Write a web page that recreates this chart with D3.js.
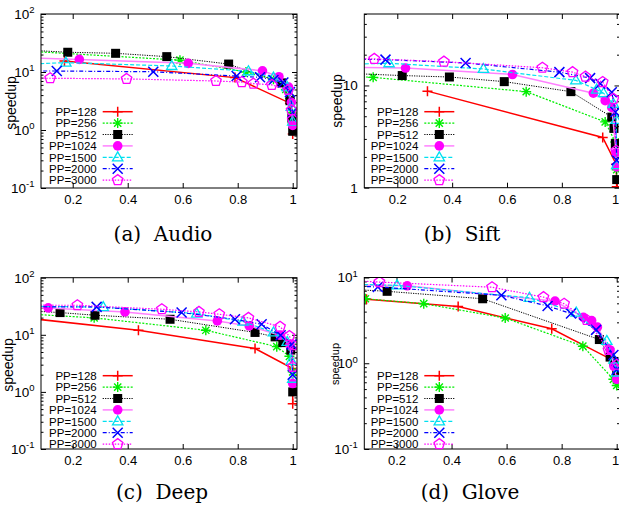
<!DOCTYPE html>
<html><head><meta charset="utf-8">
<script src="https://cdn.jsdelivr.net/npm/d3@7"></script>
<style>body{margin:0;background:#fff} svg{display:block}</style>
</head><body>
<svg id="chart" width="619" height="510"></svg>
<script>
const seriesNames = ["PP=128","PP=256","PP=512","PP=1024","PP=1500","PP=2000","PP=3000"];
const xTickValues = [0.2, 0.4, 0.6, 0.8, 1];
const captions = ["(a)  Audio", "(b)  Sift", "(c)  Deep", "(d)  Glove"];

// (a) Audio  [recall, speedup]
const audioPP128  = [[0.17,15.5],[0.79,8.0],[0.99,2.9],[1.0,0.85]];
const audioPP256  = [[0.06,22.5],[0.59,16],[0.83,10],[0.93,7.5],[0.975,5],[0.99,3.5],[0.997,2.0],[1.0,1.3]];
const audioPP512  = [[0.06,23.5],[0.182,21.9],[0.356,21],[0.542,18.4],[0.767,13.7],[0.96,6.5],[0.99,3.2],[0.997,1.6],[1.0,0.95]];
const audioPP1024 = [[0.06,17.5],[0.224,16.5],[0.62,14.1],[0.89,10.5],[0.95,8.3],[0.985,5.5],[0.995,3],[1.0,1.2]];
const audioPP1500 = [[0.06,13.8],[0.175,14.5],[0.56,12.7],[0.839,10.3],[0.93,8],[0.98,5.5],[0.995,2.5],[1.0,1.4]];
const audioPP2000 = [[0.06,10.4],[0.142,10.4],[0.493,10.1],[0.796,8.5],[0.881,8.1],[0.93,7.3],[0.966,6.6],[0.99,4.5],[1.0,2.0]];
const audioPP3000 = [[0.06,7.8],[0.118,7.8],[0.396,7.6],[0.721,7.0],[0.815,6.7],[0.857,6.3],[0.924,6.0],[0.984,4.9],[0.996,2.2],[1.0,1.5]];

// (b) Sift
const siftPP128  = [[0.31,8.8],[0.949,3.1],[0.998,1.7],[1.0,1.02]];
const siftPP256  = [[0.06,12.2],[0.112,12.0],[0.67,8.7],[0.958,4.4],[0.995,2.8],[1.0,1.5]];
const siftPP512  = [[0.06,13],[0.218,12.5],[0.39,12.1],[0.59,10.9],[0.833,8.7],[0.982,4.9],[0.99,3.8],[0.995,2.7],[1.0,1.2]];
const siftPP1024 = [[0.06,15],[0.23,14.8],[0.62,12.8],[0.915,8.4],[0.958,7.1],[0.982,6.1],[0.998,2.2],[1.0,1.6]];
const siftPP1500 = [[0.06,16.2],[0.17,16.5],[0.514,14.5],[0.851,11.2],[0.927,9.1],[0.952,8.4],[0.988,6.6],[0.998,4.6],[1.0,1.66]];
const siftPP2000 = [[0.06,18],[0.157,17.9],[0.449,16.6],[0.791,13.5],[0.903,11.8],[0.94,10.4],[0.982,8.6],[0.995,5.5],[1.0,1.86]];
const siftPP3000 = [[0.06,18.3],[0.116,18.2],[0.37,17.1],[0.729,14.9],[0.839,13.5],[0.886,12.2],[0.949,10.8],[0.988,7.4],[0.998,2.3]];

// (c) Deep
const deepPP128  = [[0.06,19],[0.439,12.0],[0.863,5.75],[1.0,2.57],[1.0,0.62]];
const deepPP256  = [[0.06,22.8],[0.278,19.8],[0.684,12.0],[0.942,6.2],[0.988,4.2],[1.0,2.25]];
const deepPP512  = [[0.06,26],[0.154,24.5],[0.281,22],[0.554,18.7],[0.863,11],[0.936,9.2],[0.964,7.3],[0.993,5.4],[1.0,1.0]];
const deepPP1024 = [[0.06,30],[0.111,29.6],[0.39,25.2],[0.726,17.5],[0.842,14.3],[0.954,9.8],[0.99,6.6],[1.0,1.4]];
const deepPP1500 = [[0.06,31.5],[0.311,30.5],[0.651,23.5],[0.82,17],[0.93,11],[0.98,7.5],[0.995,3.5],[1.0,1.7]];
const deepPP2000 = [[0.06,31],[0.287,30.8],[0.596,24.5],[0.79,18.7],[0.887,15.3],[0.956,9.8],[0.996,6.8],[1.0,2.0]];
const deepPP3000 = [[0.06,33],[0.217,32.9],[0.524,28],[0.659,25.2],[0.733,22.9],[0.839,19.8],[0.954,13.8],[0.988,9.5],[1.0,6.6],[1.0,2.75]];

// (d) Glove
const glovePP128  = [[0.091,5.56],[0.424,4.58],[0.764,2.52],[0.982,1.1],[1.0,0.65]];
const glovePP256  = [[0.087,5.65],[0.299,4.95],[0.595,3.37],[0.877,1.58],[0.988,0.65],[1.0,0.55]];
const glovePP512  = [[0.06,7.2],[0.166,6.9],[0.513,5.65],[0.937,1.89],[0.976,1.18],[0.99,1.05],[1.0,0.78]];
const glovePP1024 = [[0.06,8.2],[0.239,8.0],[0.776,5.3],[0.879,3.43],[0.909,3.14],[0.93,2.64],[0.976,1.43],[0.99,0.92],[1.0,0.65]];
const glovePP1500 = [[0.06,8.3],[0.202,8.1],[0.683,5.8],[0.853,3.9],[0.964,1.82],[0.99,1.1],[1.0,0.78]];
const glovePP2000 = [[0.06,7.9],[0.132,7.76],[0.581,6.2],[0.749,4.66],[0.834,3.8],[0.925,2.45],[0.988,1.25],[1.0,0.84]];
const glovePP3000 = [[0.06,9.1],[0.138,8.85],[0.547,7.7],[0.734,5.9],[0.809,4.95],[0.891,3.2],[0.97,1.43],[1.0,0.96]];

const styles = [
  {color:'#ff0000', dash:null,       width:1.5, marker:'plus'},
  {color:'#00ee00', dash:'2,1.5',    width:1.2, marker:'star'},
  {color:'#000000', dash:'1.2,1.2',  width:1.0, marker:'square'},
  {color:'#ff80ff', dash:null,       width:1.5, marker:'circle', mcolor:'#ff00ff'},
  {color:'#00e0f0', dash:'4,2',      width:1.2, marker:'triangle'},
  {color:'#0000ff', dash:'4,2,1,2',  width:1.2, marker:'cross'},
  {color:'#ff00ff', dash:'1.5,1.5',  width:1.2, marker:'pentagon'}
];

const panels = [
  {data:[audioPP128,audioPP256,audioPP512,audioPP1024,audioPP1500,audioPP2000,audioPP3000],
   left:41, right:297, top:14, bottom:188, xdom:[0.0847,1.0156], ydom:[0.1,100], exp:true, edge:false,
   legX:96.7, legY:111.7, labX:16, labY:103, labSize:14, capX:163, capY:241},
  {data:[siftPP128,siftPP256,siftPP512,siftPP1024,siftPP1500,siftPP2000,siftPP3000],
   left:364.3, right:619.5, top:14, bottom:187.7, xdom:[0.0797,1.0102], ydom:[1,50], exp:false, edge:true,
   legX:418.3, legY:111.7, labX:341.5, labY:101, labSize:14, capX:462, capY:241},
  {data:[deepPP128,deepPP256,deepPP512,deepPP1024,deepPP1500,deepPP2000,deepPP3000],
   left:41, right:297, top:277.7, bottom:449, xdom:[0.0847,1.0156], ydom:[0.1,100], exp:true, edge:false,
   legX:96.7, legY:375.7, labX:12.5, labY:365, labSize:14, capX:162, capY:499},
  {data:[glovePP128,glovePP256,glovePP512,glovePP1024,glovePP1500,glovePP2000,glovePP3000],
   left:364.3, right:619.5, top:277.5, bottom:449, xdom:[0.083,1.0102], ydom:[0.1,10], exp:true, edge:true,
   legX:418.3, legY:375.7, labX:338.5, labY:364, labSize:11, capX:470, capY:499}
];

const svg = d3.select('#chart');
const FONT = 'Liberation Sans, Arial, Helvetica, sans-serif';

function drawMarker(g, type, cx, cy, color) {
  const s = 5;
  if (type === 'plus') {
    g.append('path').attr('d', `M${cx-s},${cy}H${cx+s}M${cx},${cy-s}V${cy+s}`)
      .attr('stroke', color).attr('stroke-width', 1.5).attr('fill', 'none');
  } else if (type === 'star') {
    const d = s*0.72;
    g.append('path').attr('d', `M${cx-s},${cy}H${cx+s}M${cx},${cy-s}V${cy+s}M${cx-d},${cy-d}L${cx+d},${cy+d}M${cx-d},${cy+d}L${cx+d},${cy-d}`)
      .attr('stroke', color).attr('stroke-width', 1.4).attr('fill', 'none');
  } else if (type === 'square') {
    g.append('rect').attr('x', cx-4.5).attr('y', cy-4.5).attr('width', 9).attr('height', 9).attr('fill', color);
  } else if (type === 'circle') {
    g.append('circle').attr('cx', cx).attr('cy', cy).attr('r', 4.8).attr('fill', color);
  } else if (type === 'triangle') {
    g.append('path').attr('d', `M${cx},${cy-5.5}L${cx+5.2},${cy+3.5}L${cx-5.2},${cy+3.5}Z`)
      .attr('stroke', color).attr('stroke-width', 1.3).attr('fill', 'none');
  } else if (type === 'cross') {
    g.append('path').attr('d', `M${cx-s},${cy-s}L${cx+s},${cy+s}M${cx-s},${cy+s}L${cx+s},${cy-s}`)
      .attr('stroke', color).attr('stroke-width', 1.5).attr('fill', 'none');
  } else if (type === 'pentagon') {
    const r = 5.5;
    const pts = d3.range(5).map(i => {
      const a = -Math.PI/2 + i*2*Math.PI/5;
      return [cx + r*Math.cos(a), cy + r*Math.sin(a)];
    });
    g.append('path').attr('d', 'M' + pts.map(p => p.join(',')).join('L') + 'Z')
      .attr('stroke', color).attr('stroke-width', 1.3).attr('fill', 'none');
  }
}

function minorTicks(dom) {
  const out = [];
  const k0 = Math.floor(Math.log10(dom[0])), k1 = Math.ceil(Math.log10(dom[1]));
  for (let k = k0; k < k1; k++) for (let m = 2; m <= 9; m++) {
    const v = m * Math.pow(10, k);
    if (v > dom[0] && v < dom[1] * 1.0001) out.push(v);
  }
  return out;
}
function majorTicks(dom) {
  const out = [];
  const k0 = Math.ceil(Math.log10(dom[0]) - 1e-9), k1 = Math.floor(Math.log10(dom[1]) + 1e-9);
  for (let k = k0; k <= k1; k++) out.push(Math.pow(10, k));
  return out;
}

panels.forEach((p, pi) => {
  const x = d3.scaleLinear().domain(p.xdom).range([p.left, p.right]);
  const y = d3.scaleLog().domain(p.ydom).range([p.bottom, p.top]);
  const g = svg.append('g');

  const clipId = 'clip' + pi;
  svg.append('clipPath').attr('id', clipId).append('rect')
    .attr('x', p.left).attr('y', p.top).attr('width', p.right - p.left).attr('height', p.bottom - p.top);

  // axes
  const majors = majorTicks(p.ydom), minors = minorTicks(p.ydom);
  const axL = g.append('g').attr('transform', `translate(${p.left},0)`)
    .call(d3.axisLeft(y).tickValues(majors).tickSize(-5).tickPadding(6.5)
      .tickFormat(d => p.exp ? '10' : d3.format('d')(d)));
  axL.selectAll('.tick text').attr('font-size', 13.5).attr('font-family', FONT).attr('fill', '#000')
    .each(function(d) {
      if (p.exp) {
        const t = d3.select(this);
        t.append('tspan').attr('dy', -5.5).attr('font-size', 9.5).text(String(Math.round(Math.log10(d))));
      }
    });
  g.append('g').attr('transform', `translate(${p.left},0)`)
    .call(d3.axisLeft(y).tickValues(minors).tickSize(-2.5).tickFormat(''));
  g.append('g').attr('transform', `translate(${p.right},0)`)
    .call(d3.axisRight(y).tickValues(majors).tickSize(-5).tickFormat(''));
  g.append('g').attr('transform', `translate(${p.right},0)`)
    .call(d3.axisRight(y).tickValues(minors).tickSize(-2.5).tickFormat(''));
  const axB = g.append('g').attr('transform', `translate(0,${p.bottom})`)
    .call(d3.axisBottom(x).tickValues(xTickValues).tickSize(-5).tickPadding(7)
      .tickFormat(d => d === 1 ? '1' : d3.format('.1f')(d)));
  axB.selectAll('.tick text').attr('font-size', 13).attr('font-family', FONT).attr('fill', '#000');
  if (p.edge) {
    axB.selectAll('.tick text').filter(d => d === 1).attr('text-anchor', 'end').attr('x', 2);
  }
  g.append('g').attr('transform', `translate(0,${p.top})`)
    .call(d3.axisTop(x).tickValues(xTickValues).tickSize(-5).tickFormat(''));
  g.selectAll('.domain').remove();
  g.selectAll('.tick line').attr('stroke', '#000').attr('stroke-width', 1);

  // series
  const plot = g.append('g').attr('clip-path', `url(#${clipId})`);
  const line = d3.line().x(d => x(d[0])).y(d => y(d[1]));
  p.data.forEach((series, si) => {
    const st = styles[si];
    plot.append('path').datum(series).attr('d', line)
      .attr('fill', 'none').attr('stroke', st.color).attr('stroke-width', st.width)
      .attr('stroke-dasharray', st.dash);
    series.filter(d => d[0] >= p.xdom[0]).forEach(d => {
      drawMarker(plot, st.marker, x(d[0]), y(d[1]), st.mcolor || st.color);
    });
  });

  // frame
  g.append('rect').attr('x', p.left).attr('y', p.top)
    .attr('width', p.right - p.left).attr('height', p.bottom - p.top)
    .attr('fill', 'none').attr('stroke', '#000').attr('stroke-width', 1);

  // legend
  const lg = g.append('g');
  seriesNames.forEach((name, si) => {
    const st = styles[si];
    const cy = p.legY + si * 11.4;
    lg.append('text').attr('x', p.legX).attr('y', cy + 4.2).attr('text-anchor', 'end')
      .attr('font-family', FONT).attr('font-size', 11.5).text(name);
    lg.append('line').attr('x1', p.legX + 6).attr('x2', p.legX + 36).attr('y1', cy).attr('y2', cy)
      .attr('stroke', st.color).attr('stroke-width', st.width).attr('stroke-dasharray', st.dash);
    drawMarker(lg, st.marker, p.legX + 21, cy, st.mcolor || st.color);
  });

  // y label (baseline at labX)
  g.append('text').attr('transform', `translate(${p.labX},${p.labY}) rotate(-90)`)
    .attr('text-anchor', 'middle')
    .attr('font-family', FONT).attr('font-size', p.labSize).text('speedup');

  // caption
  g.append('text').attr('x', p.capX).attr('y', p.capY).attr('text-anchor', 'middle')
    .attr('font-family', 'DejaVu Serif, serif').attr('font-size', 20)
    .style('white-space', 'pre').text(captions[pi]);
});
</script>
</body></html>
